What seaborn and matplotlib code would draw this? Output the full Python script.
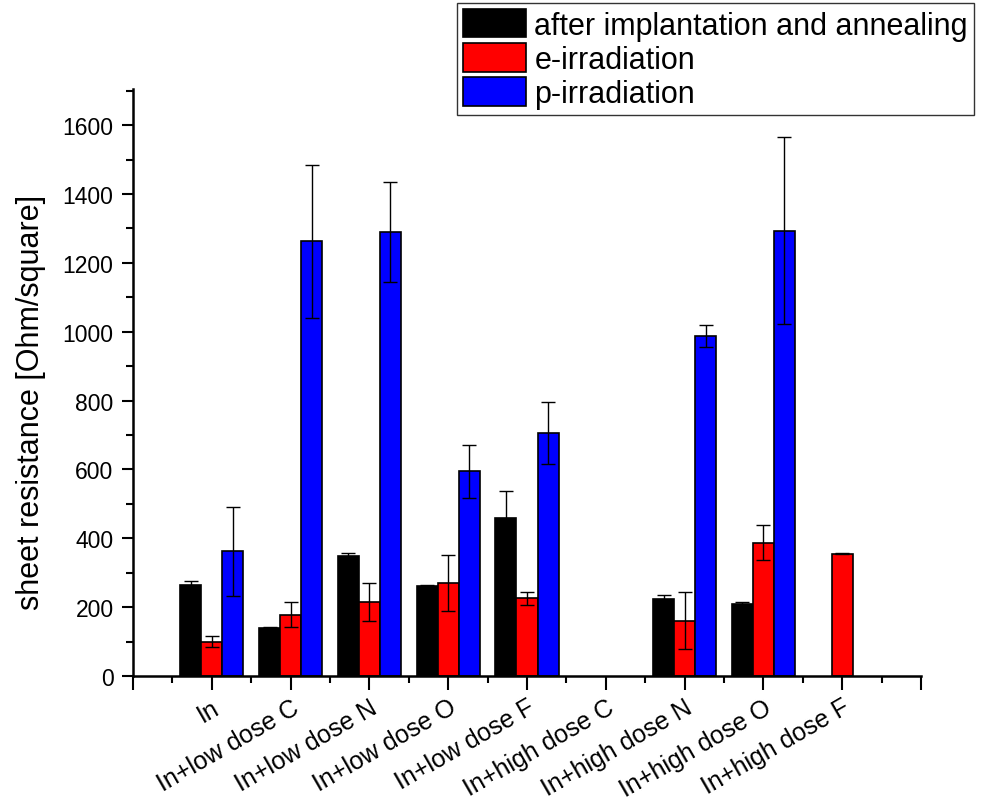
import numpy as np
import pandas as pd
import matplotlib
matplotlib.use("Agg")
import matplotlib.pyplot as plt
import seaborn as sns
from matplotlib.patches import Patch
from matplotlib.ticker import MultipleLocator

# Data
samples = ["In", "In+low dose C", "In+low dose N", "In+low dose O", "In+low dose F",
           "In+high dose C", "In+high dose N", "In+high dose O", "In+high dose F"]
series = ["after implantation and annealing", "e-irradiation", "p-irradiation"]
colors = ["#000000", "#ff0000", "#0000ff"]

annealed = [265, 140, 348, 260, 458, np.nan, 222, 210, np.nan]
annealed_err = [10, 2, 10, 3, 80, np.nan, 12, 5, np.nan]
e_irr = [100, 178, 215, 270, 225, np.nan, 160, 387, 355]
e_irr_err = [15, 37, 55, 80, 20, np.nan, 83, 50, 2]
p_irr = [362, 1262, 1290, 595, 705, np.nan, 987, 1293, np.nan]
p_irr_err = [130, 222, 145, 77, 90, np.nan, 31, 272, np.nan]

values = [annealed, e_irr, p_irr]
errors = [annealed_err, e_irr_err, p_irr_err]

rows = []
for s, vals, errs in zip(series, values, errors):
    for cat, v, e in zip(samples, vals, errs):
        rows.append({"sample": cat, "series": s, "value": v, "err": e})
df = pd.DataFrame(rows)

sns.set_style("ticks")
plt.rcParams["font.family"] = ["Liberation Sans", "DejaVu Sans"]
plt.rcParams["text.color"] = "black"
plt.rcParams["axes.labelcolor"] = "black"
plt.rcParams["xtick.color"] = "black"
plt.rcParams["ytick.color"] = "black"

fig = plt.figure(figsize=(9.88, 8.03), dpi=100)
ax = fig.add_axes([0.1346, 0.157, 0.7976, 0.731])

sns.barplot(data=df.dropna(subset=["value"]), x="sample", y="value", hue="series",
            order=samples, hue_order=series, palette=colors, width=0.8,
            errorbar=None, edgecolor="black", linewidth=1.2, saturation=1,
            legend=False, ax=ax)

# error bars from the bar positions
for s, cont in zip(series, ax.containers):
    sub = df[df["series"] == s].set_index("sample")
    for bar in cont:
        xc = bar.get_x() + bar.get_width() / 2
        cat = samples[int(round(xc))]
        ax.errorbar(xc, sub.loc[cat, "value"], yerr=sub.loc[cat, "err"],
                    fmt="none", ecolor="black", elinewidth=1, capsize=5,
                    capthick=1, zorder=5)

ax.set_xlim(-1, 9)
ax.set_ylim(0, 1705)
ax.set_xticks(range(-1, 10))
ax.set_xticklabels([""] + samples + [""], rotation=30, ha="right",
                   rotation_mode="anchor", fontsize=18)
ax.xaxis.set_minor_locator(MultipleLocator(0.5))
ax.yaxis.set_major_locator(MultipleLocator(200))
ax.yaxis.set_minor_locator(MultipleLocator(100))
ax.tick_params(axis="x", which="major", direction="out", length=10, width=1.5)
ax.tick_params(axis="x", which="minor", direction="out", length=5, width=1.5)
ax.tick_params(axis="y", which="major", direction="out", length=8, width=1.5,
               labelsize=16.5, pad=6)
ax.tick_params(axis="y", which="minor", direction="out", length=5, width=1.5)
ax.set_xlabel("")
ax.set_ylabel("sheet resistance [Ohm/square]", fontsize=22)
ax.yaxis.set_label_coords(-0.11, 0.468)
for sp in ["left", "bottom"]:
    ax.spines[sp].set_linewidth(1.8)
    ax.spines[sp].set_color("black")
sns.despine(ax=ax)

handles = [Patch(facecolor=c, edgecolor="black", linewidth=1.2) for c in colors]
leg = fig.legend(handles, series, loc="upper left",
                 bbox_to_anchor=(0.4625, 0.995), fontsize=22, frameon=True,
                 fancybox=False, edgecolor="black", handlelength=2.05,
                 handleheight=1.05, labelspacing=0.08, handletextpad=0.28,
                 borderpad=0.2, borderaxespad=0)
leg.get_frame().set_linewidth(1)

fig.savefig("out.png", dpi=100)
